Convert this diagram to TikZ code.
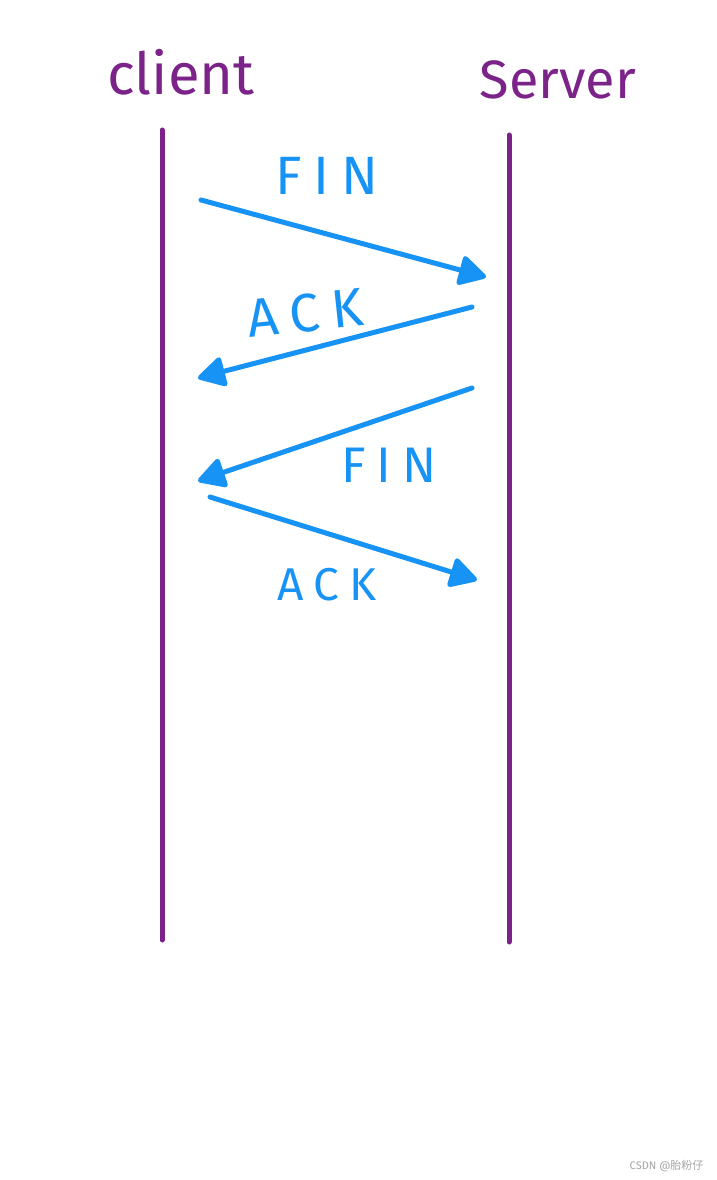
\documentclass[tikz,border=0pt]{standalone}
\usepackage{fontspec}
\setmainfont{Fira Sans}
\newfontfamily\cjk{Noto Sans CJK SC}
\newfontfamily\wide[LetterSpace=22]{Fira Sans}
\usepackage{tikz}
\usetikzlibrary{positioning,arrows.meta}
\usepackage{xcolor}
\definecolor{lifepurple}{HTML}{7B2388}
\definecolor{msgblue}{HTML}{1793F5}

\begin{document}
\begin{tikzpicture}[x=1pt,y=-1pt,
  lifeline/.style={draw=lifepurple,line width=5pt,line cap=round},
  msg/.style={draw=msgblue,line width=5pt,line cap=round,
    -{Triangle[length=30pt,width=32pt,round]}},
  msglabel/.style={text=msgblue,font=\wide\fontsize{54}{58}\selectfont},
  role/.style={text=lifepurple,font=\fontsize{58}{62}\selectfont}]
\useasboundingbox (0,0) rectangle (717,1180);
% the two parties
\node[role] (client) at (181,72) {client};
\node[role,font=\fontsize{54}{58}\selectfont] (server) at (558,80) {Server};
\coordinate (ctop) at (162,130);
\coordinate (cbot) at (162,940);
\coordinate (stop) at (509,135);
\coordinate (sbot) at (509,942);
\draw[lifeline] (ctop) -- (cbot);
\draw[lifeline] (stop) -- (sbot);
% message end points
\coordinate (fin1a) at (201,200);
\coordinate (fin1b) at (486,277);
\coordinate (ack1a) at (472,307);
\coordinate (ack1b) at (198,378);
\coordinate (fin2a) at (472,388);
\coordinate (fin2b) at (198,481);
\coordinate (ack2a) at (210,497);
\coordinate (ack2b) at (477,580);
\draw[msg] (fin1a) -- (fin1b);
\draw[msg] (ack1a) -- (ack1b);
\draw[msg] (fin2a) -- (fin2b);
\draw[msg] (ack2a) -- (ack2b);
% labels
\node[msglabel] (finlab1) at (327,176) {FIN};
\node[msglabel,rotate=6] (acklab1) at (305,313) {ACK};
\node[msglabel,font=\wide\fontsize{50}{54}\selectfont] (finlab2) at (389,465) {FIN};
\node[msglabel,font=\wide\fontsize{46}{50}\selectfont] (acklab2) at (327,585) {ACK};
% watermark
\node[text=gray!70,font=\fontsize{11}{13}\selectfont,anchor=east] (mark) at (707,1166) {CSDN @{\cjk 胎粉仔}};
\end{tikzpicture}
\end{document}
